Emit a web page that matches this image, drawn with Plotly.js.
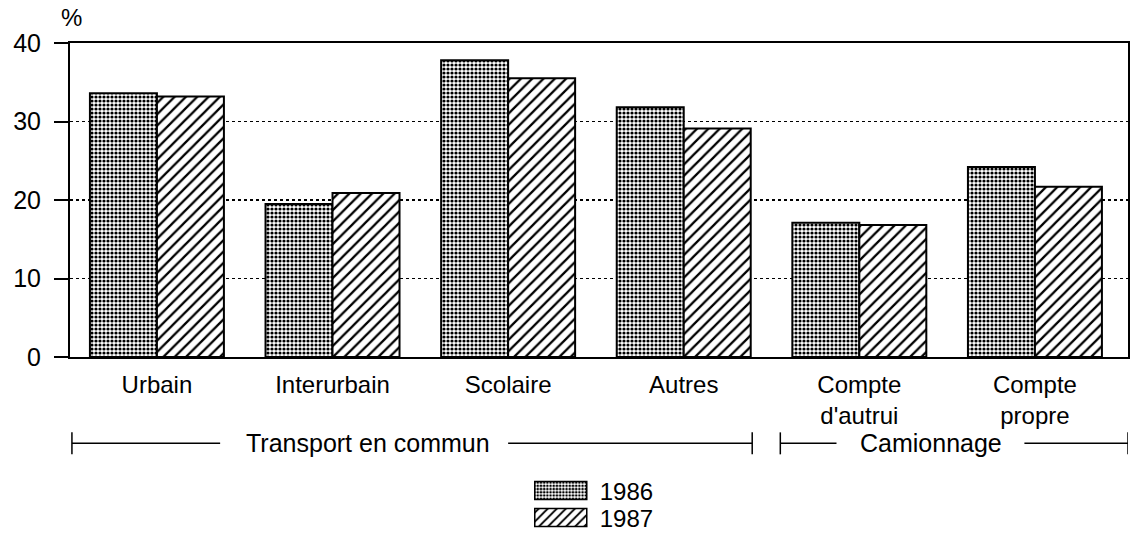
<!DOCTYPE html>
<html><head><meta charset="utf-8">
<script src="https://cdn.plot.ly/plotly-3.0.1.min.js"></script>
<style>body{margin:0;background:#fff}</style>
</head><body><div id="chart" style="width:1132px;height:540px"></div>
<script>
const categories = ["Urbain", "Interurbain", "Scolaire", "Autres", "Compte d'autrui", "Compte propre"];
const tickLabels = ["Urbain", "Interurbain", "Scolaire", "Autres", "Compte<br>d'autrui", "Compte<br>propre"];
const values1986 = [33.6, 19.5, 37.8, 31.8, 17.1, 24.2];
const values1987 = [33.2, 20.9, 35.5, 29.1, 16.8, 21.7];
const seriesNames = ["1986", "1987"];
const yTicks = [0, 10, 20, 30, 40];
const groupLabels = ["Transport en commun", "Camionnage"];

const FONT = "Liberation Sans, Arial, Helvetica, sans-serif";

const data = [
  {
    type: "bar", name: seriesNames[0], x: categories, y: values1986, legend: "legend",
    marker: { color: "#fff", line: { color: "#000", width: 2 },
      pattern: { shape: ".", fgcolor: "#000", bgcolor: "#fff", size: 4, solidity: 0.5 } }
  },
  {
    type: "bar", name: seriesNames[1], x: categories, y: values1987, legend: "legend2",
    marker: { color: "#fff", line: { color: "#000", width: 2 },
      pattern: { shape: "/", fgcolor: "#000", bgcolor: "#fff", size: 8, solidity: 0.28 } }
  }
];

// bracket geometry (category-axis units): ends, inner gap ends around the label, label centre
const lineY = -0.275, tickH = 0.035;
const brackets = [
  { x0: -0.484, g0: 0.36, g1: 2.0, x1: 3.39, mid: 1.2 },
  { x0: 3.55, g0: 3.87, g1: 4.94, x1: 5.53, mid: 4.41 }
];
const shapes = [];
const annotations = [
  { text: "%", xref: "paper", yref: "paper", x: 0.001, y: 1.08, xanchor: "center", yanchor: "middle",
    showarrow: false, font: { family: FONT, size: 24, color: "#000" } }
];
const ln = { color: "#000", width: 1.5 };
brackets.forEach((b, i) => {
  shapes.push({ type: "line", xref: "x", yref: "paper", x0: b.x0, x1: b.g0, y0: lineY, y1: lineY, line: ln });
  shapes.push({ type: "line", xref: "x", yref: "paper", x0: b.g1, x1: b.x1, y0: lineY, y1: lineY, line: ln });
  shapes.push({ type: "line", xref: "x", yref: "paper", x0: b.x0, x1: b.x0, y0: lineY - tickH, y1: lineY + tickH, line: ln });
  shapes.push({ type: "line", xref: "x", yref: "paper", x0: b.x1, x1: b.x1, y0: lineY - tickH, y1: lineY + tickH, line: ln });
  annotations.push({ text: groupLabels[i], xref: "x", yref: "paper", x: b.mid, y: lineY, xanchor: "center", yanchor: "middle",
    showarrow: false, font: { family: FONT, size: 25, color: "#000" } });
});

const legendBase = {
  xref: "container", yref: "container", xanchor: "left", yanchor: "middle", orientation: "v",
  font: { family: FONT, size: 24, color: "#000" }, itemwidth: 60, bgcolor: "rgba(0,0,0,0)", borderwidth: 0
};

const layout = {
  width: 1132, height: 540,
  margin: { l: 70, r: 4, t: 43, b: 183, autoexpand: false },
  paper_bgcolor: "#fff", plot_bgcolor: "#fff",
  font: { family: FONT, color: "#000", size: 25 },
  barmode: "group", bargap: 0.237, bargroupgap: 0,
  showlegend: true,
  legend: Object.assign({}, legendBase, { x: 0.468, y: 1 - 491 / 540 }),
  legend2: Object.assign({}, legendBase, { x: 0.468, y: 1 - 518 / 540 }),
  xaxis: {
    type: "category", range: [-0.495, 5.53],
    tickvals: categories, ticktext: tickLabels, tickangle: 0,
    showline: true, linecolor: "#000", linewidth: 2, mirror: true,
    ticks: "", showgrid: false, zeroline: false, ticklabelstandoff: 5,
    tickfont: { family: FONT, size: 24, color: "#000" }
  },
  yaxis: {
    range: [0, 40], tickvals: yTicks, ticktext: yTicks.map(String),
    ticks: "outside", ticklen: 14, tickwidth: 2, tickcolor: "#000", ticklabelstandoff: 8,
    showline: true, linecolor: "#000", linewidth: 2, mirror: true,
    showgrid: true, gridcolor: "#000", gridwidth: 1.5, griddash: "dot", zeroline: false,
    tickfont: { family: FONT, size: 25, color: "#000" }
  },
  shapes: shapes,
  annotations: annotations
};

Plotly.newPlot("chart", data, layout, { staticPlot: true }).then(gd => {
  gd.querySelectorAll(".infolayer .traces").forEach(item => {
    const txt = item.querySelector("text.legendtext");
    const tx = txt ? parseFloat(txt.getAttribute("x")) || 70 : 70;
    item.querySelectorAll(".legendpoints path").forEach(p => {
      p.setAttribute("transform", "");
      p.setAttribute("d", "M" + (tx - 65) + ",-9H" + (tx - 13) + "V9H" + (tx - 65) + "Z");
      p.style.strokeWidth = "1.5px";
      p.style.stroke = "#000";
    });
  });
});
</script>
</body></html>
